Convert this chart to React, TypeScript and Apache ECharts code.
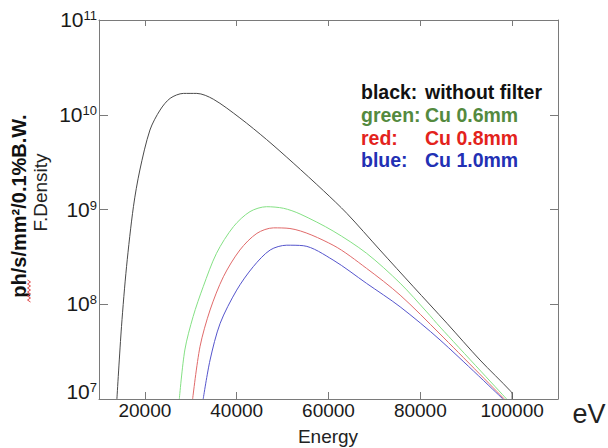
import React, { useEffect, useRef } from "react";
import * as echarts from "echarts";

// Energy (eV) and flux density (ph/s/mm²/0.1%B.W.)
const blackEnergy = [13900, 14900, 16000, 17500, 18900, 21100, 23300, 25500, 28400, 31300, 34900, 40700, 46500, 52300, 58900, 64000, 71200, 78500, 85800, 93000, 99600, 100000, 100000];
const blackFlux = [1.0e7, 5.8e7, 2.49e8, 1.07e9, 2.61e9, 6.9e9, 1.12e10, 1.49e10, 1.68e10, 1.68e10, 1.46e10, 9.25e9, 5.48e9, 3.1e9, 1.58e9, 9.1e8, 3.74e8, 1.53e8, 6.3e7, 2.58e7, 1.22e7, 1.12e7, 1.0e7];

const greenEnergy = [27500, 28700, 30500, 32700, 35600, 39300, 42900, 46500, 50200, 53800, 61000, 68300, 75600, 81400, 84300, 98800];
const greenFlux = [1.0e7, 3.29e7, 7.4e7, 1.53e8, 3.45e8, 6.6e8, 9.5e8, 1.07e9, 1.03e9, 8.97e8, 5.93e8, 3.45e8, 1.67e8, 8.3e7, 5.75e7, 1.0e7];

const redEnergy = [30400, 32000, 34200, 37100, 40700, 44400, 48000, 51600, 61000, 68300, 75600, 84300, 98300];
const redFlux = [1.0e7, 3.56e7, 8.7e7, 1.95e8, 3.74e8, 5.6e8, 6.4e8, 6.3e8, 4.2e8, 2.39e8, 1.25e8, 4.85e7, 1.0e7];

const blueEnergy = [32700, 34200, 36400, 40000, 43600, 47300, 50900, 54500, 61000, 68300, 75600, 84300, 98000];
const blueFlux = [1.0e7, 2.58e7, 6.3e7, 1.41e8, 2.49e8, 3.74e8, 4.2e8, 4.15e8, 2.93e8, 1.66e8, 9.4e7, 4.2e7, 1.0e7];

const xTicks = [20000, 40000, 60000, 80000, 100000];
const xMin = 10000;
const xMax = 110000;
const yMin = 1e7;
const yMax = 1e11;

const legendKeys = ["black:", "green:", "red:", "blue:"];
const legendValues = ["without filter", "Cu 0.6mm", "Cu 0.8mm", "Cu 1.0mm"];
const legendColors = ["#111111", "#548a3e", "#e3231c", "#2230b4"];

const seriesNames = ["without filter", "Cu 0.6mm", "Cu 0.8mm", "Cu 1.0mm"];
const lineColors = ["#4a4a4a", "#84e084", "#e06a6a", "#5555cc"];

const FONT = '"Liberation Sans", Arial, Helvetica, sans-serif';

function pairs(xs: number[], ys: number[]) {
  return xs.map((x, i) => [x, ys[i]]);
}

export default function App() {
  const ref = useRef<HTMLDivElement>(null);

  useEffect(() => {
    if (!ref.current) return;
    const chart = echarts.init(ref.current, null, { renderer: "svg" });

    const datasets = [
      pairs(blackEnergy, blackFlux),
      pairs(greenEnergy, greenFlux),
      pairs(redEnergy, redFlux),
      pairs(blueEnergy, blueFlux),
    ];

    const axisColor = "#7a7a7a";

    const squiggle: number[][] = [];
    for (let i = 0; i <= 11; i++) {
      squiggle.push([i % 2 === 0 ? 27.5 : 30.5, 280 + i * 2]);
    }

    const graphic: any[] = [
      {
        type: "text",
        x: 18.5,
        y: 206,
        rotation: Math.PI / 2,
        style: {
          text: "ph/s/mm²/0.1%B.W.",
          fontSize: 20,
          fontWeight: "bold",
          fontFamily: FONT,
          fill: "#111",
          align: "center",
          verticalAlign: "middle",
        },
      },
      {
        type: "text",
        x: 40,
        y: 192.5,
        rotation: Math.PI / 2,
        style: {
          text: "F.Density",
          fontSize: 19,
          fontFamily: FONT,
          fill: "#222",
          align: "center",
          verticalAlign: "middle",
        },
      },
      {
        type: "polyline",
        shape: { points: squiggle },
        style: { stroke: "#e04848", lineWidth: 1, fill: null },
      },
      {
        type: "text",
        x: 328,
        y: 436,
        style: {
          text: "Energy",
          fontSize: 19,
          fontFamily: FONT,
          fill: "#222",
          align: "center",
          verticalAlign: "middle",
        },
      },
      {
        type: "text",
        x: 589,
        y: 414,
        style: {
          text: "eV",
          fontSize: 27,
          fontFamily: FONT,
          fill: "#222",
          align: "center",
          verticalAlign: "middle",
        },
      },
    ];

    legendKeys.forEach((k, i) => {
      const y = 92 + i * 22.8;
      graphic.push({
        type: "text",
        x: 361,
        y,
        style: {
          text: k,
          fontSize: 19.5,
          fontWeight: "bold",
          fontFamily: FONT,
          fill: legendColors[i],
          align: "left",
          verticalAlign: "middle",
        },
      });
      graphic.push({
        type: "text",
        x: 425,
        y,
        style: {
          text: legendValues[i],
          fontSize: 19.5,
          fontWeight: "bold",
          fontFamily: FONT,
          fill: legendColors[i],
          align: "left",
          verticalAlign: "middle",
        },
      });
    });

    chart.setOption({
      animation: false,
      backgroundColor: "#ffffff",
      grid: {
        left: 99,
        right: 50,
        top: 20,
        bottom: 49,
        containLabel: false,
        outerBoundsMode: "none",
      },
      xAxis: [
        {
          type: "value",
          position: "bottom",
          min: xMin,
          max: xMax,
          axisLine: { show: true, lineStyle: { color: axisColor, width: 1 } },
          axisTick: {
            show: true,
            inside: true,
            length: 7,
            customValues: xTicks,
            lineStyle: { color: axisColor },
          },
          axisLabel: {
            show: true,
            customValues: xTicks,
            margin: 2,
            fontSize: 19,
            fontFamily: FONT,
            color: "#1a1a1a",
            formatter: (v: number) => String(Math.round(v)),
          },
          splitLine: { show: false },
        },
        {
          type: "value",
          position: "top",
          min: xMin,
          max: xMax,
          axisLine: { show: true, lineStyle: { color: axisColor, width: 1 } },
          axisTick: {
            show: true,
            inside: true,
            length: 6,
            customValues: xTicks,
            lineStyle: { color: axisColor },
          },
          axisLabel: { show: false },
          splitLine: { show: false },
        },
      ],
      yAxis: [
        {
          type: "log",
          logBase: 10,
          position: "left",
          min: yMin,
          max: yMax,
          axisLine: { show: true, lineStyle: { color: axisColor, width: 1 } },
          axisTick: { show: true, inside: true, length: 9, lineStyle: { color: axisColor } },
          minorTick: { show: false },
          splitLine: { show: false },
          axisLabel: {
            show: true,
            margin: 2,
            formatter: (v: number) => {
              const e = Math.round(Math.log10(v));
              if (e === 7) return "{b|10}{s|" + e + "}\n{gap| }";
              return "{b|10}{s|" + e + "}";
            },
            rich: {
              b: { fontSize: 21, fontFamily: FONT, color: "#1a1a1a", verticalAlign: "top", lineHeight: 22 },
              s: { fontSize: 13, fontFamily: FONT, color: "#1a1a1a", verticalAlign: "top", lineHeight: 13 },
              gap: { fontSize: 10, lineHeight: 15 },
            },
          },
        },
        {
          type: "log",
          logBase: 10,
          position: "right",
          min: yMin,
          max: yMax,
          axisLine: { show: true, lineStyle: { color: axisColor, width: 1 } },
          axisTick: { show: true, inside: true, length: 8, lineStyle: { color: axisColor } },
          minorTick: { show: false },
          splitLine: { show: false },
          axisLabel: { show: false },
        },
      ],
      series: datasets.map((d, i) => ({
        name: seriesNames[i],
        type: "line",
        xAxisIndex: 0,
        yAxisIndex: 0,
        data: d,
        showSymbol: false,
        symbol: "none",
        smooth: 0.3,
        lineStyle: { color: lineColors[i], width: 1 },
        itemStyle: { color: lineColors[i] },
        z: 4 - i,
      })),
      graphic,
    });

    return () => {
      chart.dispose();
    };
  }, []);

  return (
    <div
      ref={ref}
      style={{ position: "fixed", left: 0, top: 0, width: 608, height: 448 }}
    />
  );
}
